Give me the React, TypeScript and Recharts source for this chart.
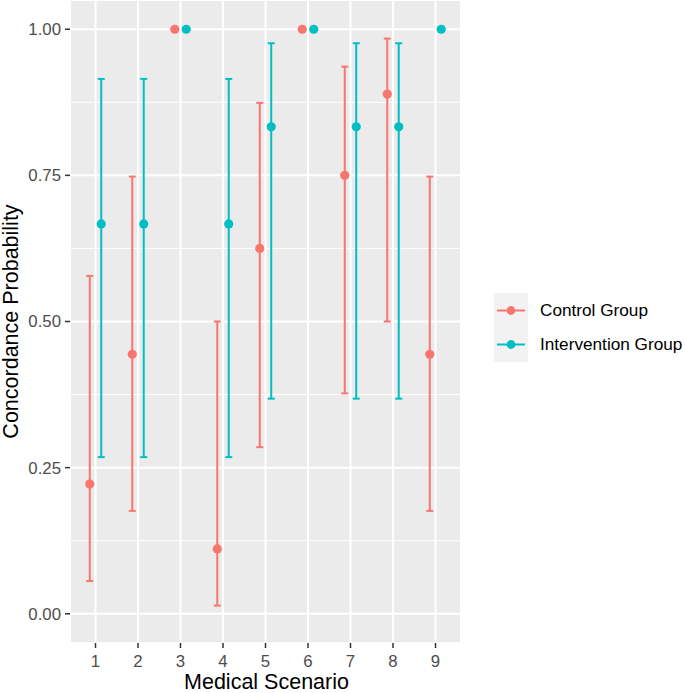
import React from 'react';
import {
  ComposedChart,
  Scatter,
  ErrorBar,
  XAxis,
  YAxis,
  CartesianGrid,
  ReferenceLine,
  Legend,
} from 'recharts';

const scenarios = [1, 2, 3, 4, 5, 6, 7, 8, 9];
const controlMean = [0.222, 0.444, 1.0, 0.111, 0.625, 1.0, 0.75, 0.889, 0.444];
const controlLow = [0.056, 0.176, 1.0, 0.014, 0.285, 1.0, 0.377, 0.5, 0.176];
const controlHigh = [0.578, 0.748, 1.0, 0.5, 0.874, 1.0, 0.936, 0.984, 0.748];
const interventionMean = [0.667, 0.667, 1.0, 0.667, 0.833, 1.0, 0.833, 0.833, 1.0];
const interventionLow = [0.268, 0.268, 1.0, 0.268, 0.368, 1.0, 0.368, 0.368, 1.0];
const interventionHigh = [0.915, 0.915, 1.0, 0.915, 0.976, 1.0, 0.976, 0.976, 1.0];
const yTicks = [0, 0.25, 0.5, 0.75, 1];
const yMinorTicks = [0.125, 0.375, 0.625, 0.875];
const seriesNames = ['Control Group', 'Intervention Group'];
const seriesColors = ['#F8766D', '#00BFC4'];

const DODGE = 0.135;
const FONT = '"Liberation Sans", Arial, Helvetica, sans-serif';

const build = (mean: number[], low: number[], high: number[], offset: number) =>
  scenarios.map((s, i) => ({
    x: s + offset,
    y: mean[i],
    err: [mean[i] - low[i], high[i] - mean[i]],
  }));

const controlData = build(controlMean, controlLow, controlHigh, -DODGE);
const interventionData = build(interventionMean, interventionLow, interventionHigh, DODGE);

const makeDot = (color: string) => (props: any) => (
  <circle cx={props.cx} cy={props.cy} r={4.6} fill={color} />
);

const LegendContent = () => (
  <div style={{ position: 'relative', width: 190, height: 69, fontFamily: FONT }}>
    <div
      style={{
        position: 'absolute',
        left: 0,
        top: 0,
        width: 34,
        height: 69,
        background: '#F2F2F2',
      }}
    />
    {seriesNames.map((name, i) => (
      <div
        key={name}
        style={{ position: 'absolute', left: 0, top: i * 34, width: 190, height: 35 }}
      >
        <svg width={34} height={35} style={{ position: 'absolute', left: 0, top: 0 }}>
          <line x1={3} x2={31} y1={17.5} y2={17.5} stroke={seriesColors[i]} strokeWidth={2} />
          <circle cx={17} cy={17.5} r={4.4} fill={seriesColors[i]} />
        </svg>
        <div
          style={{
            position: 'absolute',
            left: 46,
            top: 0,
            height: 35,
            lineHeight: '35px',
            fontSize: 17.2,
            color: '#000',
            whiteSpace: 'nowrap',
          }}
        >
          {name}
        </div>
      </div>
    ))}
  </div>
);

const YTitle = (props: any) => {
  const vb = props.viewBox || { x: 0, y: 0, width: 70, height: 643 };
  const cx = 18;
  const cy = vb.y + vb.height / 2;
  return (
    <text
      x={cx}
      y={cy}
      transform={`rotate(-90, ${cx}, ${cy})`}
      textAnchor="middle"
      fontSize={21.5}
      fontFamily={FONT}
      fill="#000"
    >
      Concordance Probability
    </text>
  );
};

const XTitle = (props: any) => {
  const vb = props.viewBox || { x: 70, y: 643, width: 391, height: 50 };
  return (
    <text
      x={vb.x + vb.width / 2 + 1}
      y={689}
      textAnchor="middle"
      fontSize={21.5}
      fontFamily={FONT}
      fill="#000"
    >
      Medical Scenario
    </text>
  );
};

export default function App() {
  return (
    <div style={{ position: 'absolute', left: 0, top: 0, width: 685, height: 693, background: '#fff' }}>
      <ComposedChart
        width={685}
        height={693}
        margin={{ top: 0, right: 224, bottom: 0, left: 0 }}
        style={{ fontFamily: FONT }}
      >
        <CartesianGrid fill="#EBEBEB" stroke="#FFFFFF" strokeWidth={2} />
        {yMinorTicks.map((v) => (
          <ReferenceLine key={v} y={v} stroke="#FFFFFF" strokeWidth={1} />
        ))}
        <XAxis
          type="number"
          dataKey="x"
          domain={[0.4, 9.6]}
          ticks={scenarios}
          allowDataOverflow
          axisLine={false}
          tickLine={{ stroke: '#333333', strokeWidth: 1.5 }}
          tickSize={5}
          tickMargin={7}
          height={50}
          interval={0}
          tick={{ fill: '#4D4D4D', fontSize: 16.8, fontFamily: FONT }}
          label={<XTitle />}
        />
        <YAxis
          type="number"
          dataKey="y"
          domain={[-0.05, 1.05]}
          ticks={yTicks}
          allowDataOverflow
          axisLine={false}
          tickLine={{ stroke: '#333333', strokeWidth: 1.5 }}
          tickSize={5}
          tickMargin={4}
          width={70}
          interval={0}
          tickFormatter={(v: number) => v.toFixed(2)}
          tick={{ fill: '#4D4D4D', fontSize: 16.8, fontFamily: FONT }}
          label={<YTitle />}
        />
        <Scatter
          name={seriesNames[0]}
          data={controlData}
          fill={seriesColors[0]}
          shape={makeDot(seriesColors[0])}
          isAnimationActive={false}
        >
          <ErrorBar
            dataKey="err"
            direction="y"
            width={3.5}
            stroke={seriesColors[0]}
            strokeWidth={2}
            isAnimationActive={false}
          />
        </Scatter>
        <Scatter
          name={seriesNames[1]}
          data={interventionData}
          fill={seriesColors[1]}
          shape={makeDot(seriesColors[1])}
          isAnimationActive={false}
        >
          <ErrorBar
            dataKey="err"
            direction="y"
            width={3.5}
            stroke={seriesColors[1]}
            strokeWidth={2}
            isAnimationActive={false}
          />
        </Scatter>
        <Legend
          layout="vertical"
          align="center"
          verticalAlign="middle"
          content={<LegendContent />}
          wrapperStyle={{ left: 494, top: 293, width: 190, height: 69, bottom: 'auto', right: 'auto' }}
        />
      </ComposedChart>
    </div>
  );
}
